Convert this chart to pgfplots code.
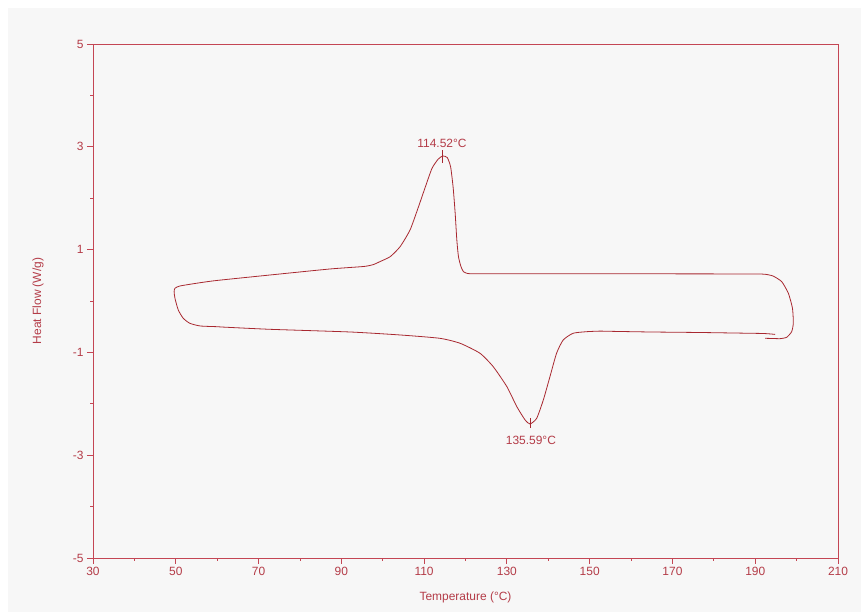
\documentclass[border=0pt]{standalone}
\usepackage{pgfplots}
\pgfplotsset{compat=1.18}
\usepackage{fontspec}
\setmainfont{Liberation Sans}
\definecolor{axc}{RGB}{196,70,84}
\definecolor{txc}{RGB}{180,60,72}
\definecolor{cur}{RGB}{168,40,48}
\definecolor{bg}{RGB}{247,247,247}
\begin{document}
\begin{tikzpicture}[x=1bp,y=1bp]
\useasboundingbox (0,0) rectangle (861,612);
\fill[white] (0,0) rectangle (861,612);
\fill[bg] (8,0) rectangle (861,604);
\begin{axis}[
  at={(93bp,54bp)}, anchor=south west,
  scale only axis, width=745bp, height=514bp,
  xmin=30, xmax=210, ymin=-5, ymax=5,
  xtick={30,50,...,210}, ytick={-5,-3,...,5},
  minor x tick num=1, minor y tick num=1,
  tick align=outside, tick pos=left,
  major tick length=6bp, minor tick length=3bp,
  axis line style={axc, line width=0.8bp},
  every tick/.style={axc, line width=0.8bp},
  axis background/.style={fill=bg},
  font=\fontsize{12}{14}\selectfont,
  /pgf/number format/assume math mode=true,
  ticklabel style={txc},
  xlabel={Temperature (°C)}, ylabel={Heat Flow (W/g)},
  xlabel style={txc, at={(axis description cs:0.5,0)}, anchor=center, yshift=-39bp},
  ylabel style={txc, at={(axis description cs:0,0.5)}, anchor=center, rotate=0, yshift=55bp},
  clip=false,
]
\addplot[cur, line width=0.8bp, smooth, tension=0.35] coordinates {
(194.8,-0.65) (193.5,-0.64) (191.9,-0.632) (188,-0.627) (176.7,-0.613) (164.6,-0.603) (155,-0.59) (152.5,-0.586)
(149.3,-0.597) (146.0,-0.628) (143.6,-0.759) (142.0,-1.017) (140.4,-1.473)
(138.8,-1.926) (137.2,-2.282) (135.59,-2.393) (134.4,-2.315) (132.4,-2.056)
(130.0,-1.667) (126.7,-1.278) (123.5,-1.017) (118.7,-0.823) (113.8,-0.726)
(104.2,-0.661) (92.1,-0.603) (72.8,-0.551) (62,-0.51) (59.9,-0.500) (55.9,-0.486)
(53.4,-0.434) (51.8,-0.336) (50.6,-0.175) (49.8,0.053) (49.6,0.181)
(49.8,0.247) (51.0,0.292) (55.9,0.356) (60,0.40) (72.8,0.506) (87.3,0.623)
(95.5,0.672) (97.8,0.71) (99.3,0.765) (101.8,0.862) (104.2,1.057) (106.6,1.381)
(108.5,1.80) (110.3,2.22) (111.9,2.58) (113.4,2.76) (114.52,2.821) (115.6,2.79)
(116.4,2.61) (117.0,2.22) (117.5,1.71) (117.9,1.19) (118.3,0.86)
(118.9,0.67) (119.5,0.57) (120.5,0.535) (121.5,0.53) (123,0.53) (130,0.53) (150,0.53) (180,0.527) (189,0.526) (191,0.524) (192.4,0.52)
(194.3,0.486) (196.4,0.376) (198.0,0.150) (199.0,-0.142) (199.2,-0.434)
(198.8,-0.597) (197.6,-0.706) (196.0,-0.733) (194.5,-0.73) (192.4,-0.726)
};
\addplot[cur, line width=0.8bp] coordinates {(114.52,2.69) (114.52,2.94)};
\addplot[cur, line width=0.8bp] coordinates {(135.59,-2.28) (135.59,-2.47)};
\node[txc, font=\fontsize{12}{14}\selectfont] at (axis cs:114.3,3.07) {114.52°C};
\node[txc, font=\fontsize{12}{14}\selectfont] at (axis cs:135.8,-2.72) {135.59°C};
\end{axis}
\end{tikzpicture}
\end{document}
